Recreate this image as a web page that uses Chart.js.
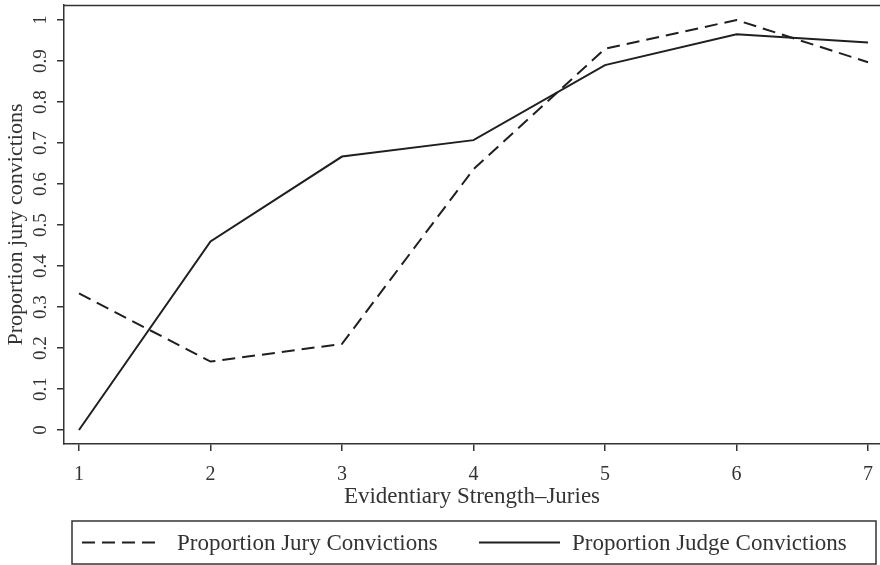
<!DOCTYPE html>
<html>
<head>
<meta charset="utf-8">
<title>Proportion of convictions by evidentiary strength</title>
<script src="https://cdn.jsdelivr.net/npm/chart.js@4.4.1/dist/chart.umd.min.js"></script>
<style>
  html, body { margin: 0; padding: 0; background: #fff; }
  #wrap { width: 880px; height: 565px; }
</style>
</head>
<body>
<div id="wrap"><canvas id="chart" width="880" height="565"></canvas></div>
<script>
// ---- data ----
const strength = [1, 2, 3, 4, 5, 6, 7];
const juryConvictions = [0.333, 0.167, 0.21, 0.636, 0.93, 1.0, 0.897];
const judgeConvictions = [0, 0.46, 0.667, 0.707, 0.89, 0.965, 0.945];
const yTicks = [0, 0.1, 0.2, 0.3, 0.4, 0.5, 0.6, 0.7, 0.8, 0.9, 1];
const yTickLabels = ['0', '0.1', '0.2', '0.3', '0.4', '0.5', '0.6', '0.7', '0.8', '0.9', '1'];
const seriesNames = ['Proportion Jury Convictions', 'Proportion Judge Convictions'];

const INK = '#1f1f1f';
const AXIS = '#333333';
const SERIF = '"Liberation Serif", "Times New Roman", serif';
const JURY_DASH = [13, 7];

// rotated y tick labels, top border line and boxed legend
const decorations = {
  id: 'decorations',
  afterDraw(chart) {
    const ctx = chart.ctx;
    const area = chart.chartArea;
    const yScale = chart.scales.y;

    // top border of the plot region
    ctx.save();
    ctx.strokeStyle = AXIS;
    ctx.lineWidth = 1.5;
    ctx.beginPath();
    ctx.moveTo(area.left, area.top + 0.5);
    ctx.lineTo(area.right, area.top + 0.5);
    ctx.stroke();
    ctx.restore();

    // y tick labels, turned like the reference
    ctx.save();
    ctx.fillStyle = AXIS;
    ctx.font = '19px ' + SERIF;
    ctx.textAlign = 'center';
    ctx.textBaseline = 'middle';
    yTicks.forEach((v, i) => {
      const py = yScale.getPixelForValue(v);
      ctx.save();
      ctx.translate(41, py);
      ctx.rotate(-Math.PI / 2);
      ctx.fillText(yTickLabels[i], 0, 0);
      ctx.restore();
    });
    ctx.restore();

    // legend box
    const box = { x: 72, y: 521, w: 804, h: 43 };
    const midY = box.y + box.h / 2;
    ctx.save();
    ctx.strokeStyle = AXIS;
    ctx.lineWidth = 1.5;
    ctx.strokeRect(box.x, box.y, box.w, box.h);

    const entries = [
      { x0: 82, x1: 157, tx: 177, ds: chart.data.datasets[0] },
      { x0: 479, x1: 560, tx: 572, ds: chart.data.datasets[1] }
    ];
    entries.forEach(e => {
      ctx.strokeStyle = e.ds.borderColor;
      ctx.lineWidth = e.ds.borderWidth;
      ctx.setLineDash(e.ds.borderDash || []);
      ctx.beginPath();
      ctx.moveTo(e.x0, midY);
      ctx.lineTo(e.x1, midY);
      ctx.stroke();
      ctx.setLineDash([]);
      ctx.fillStyle = AXIS;
      ctx.font = '23px ' + SERIF;
      ctx.textAlign = 'left';
      ctx.textBaseline = 'middle';
      ctx.fillText(e.ds.label, e.tx, midY + 1);
    });
    ctx.restore();
  }
};

const chart = new Chart(document.getElementById('chart'), {
  type: 'line',
  data: {
    datasets: [
      {
        label: seriesNames[0],
        data: strength.map((s, i) => ({ x: s, y: juryConvictions[i] })),
        borderColor: INK,
        borderWidth: 2,
        borderDash: JURY_DASH,
        pointRadius: 0,
        tension: 0,
        fill: false
      },
      {
        label: seriesNames[1],
        data: strength.map((s, i) => ({ x: s, y: judgeConvictions[i] })),
        borderColor: INK,
        borderWidth: 2,
        pointRadius: 0,
        tension: 0,
        fill: false
      }
    ]
  },
  options: {
    responsive: false,
    animation: false,
    devicePixelRatio: 1,
    layout: { padding: { top: 5, right: 0, bottom: 0, left: 0 } },
    plugins: {
      legend: { display: false },
      tooltip: { enabled: false }
    },
    scales: {
      x: {
        type: 'linear',
        min: 0.886,
        max: 7.091,
        afterBuildTicks: scale => { scale.ticks = strength.map(v => ({ value: v })); },
        afterFit: scale => {
          scale.height = 121;
          scale.paddingLeft = 0;
          scale.paddingRight = 0;
        },
        border: { display: true, color: AXIS, width: 1.5 },
        grid: { drawOnChartArea: false, drawTicks: true, tickLength: 7, color: AXIS, lineWidth: 1.5 },
        ticks: {
          color: AXIS,
          padding: 12,
          maxRotation: 0,
          autoSkip: false,
          font: { family: SERIF, size: 20 },
          callback: v => String(v)
        },
        title: {
          display: true,
          text: 'Evidentiary Strength–Juries',
          color: AXIS,
          font: { family: SERIF, size: 23 },
          padding: { top: 0, bottom: 54 }
        }
      },
      y: {
        type: 'linear',
        min: -0.0341,
        max: 1.0366,
        afterBuildTicks: scale => { scale.ticks = yTicks.map(v => ({ value: v })); },
        afterFit: scale => {
          scale.width = 64;
          scale.paddingTop = 0;
          scale.paddingBottom = 0;
        },
        border: { display: true, color: AXIS, width: 1.5 },
        grid: { drawOnChartArea: false, drawTicks: true, tickLength: 7, color: AXIS, lineWidth: 1.5 },
        ticks: { display: false },
        title: {
          display: true,
          text: 'Proportion jury convictions',
          color: AXIS,
          font: { family: SERIF, size: 22 },
          padding: { top: 3, bottom: 0 }
        }
      }
    }
  },
  plugins: [decorations]
});
</script>
</body>
</html>
